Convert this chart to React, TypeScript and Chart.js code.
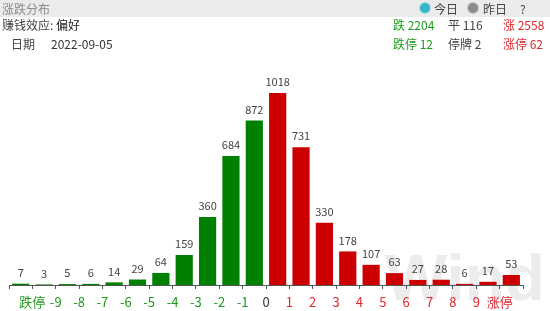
import React, { useEffect, useRef } from "react";
import { Chart, registerables } from "chart.js";

Chart.register(...registerables);

const rangeValues = [7, 3, 5, 6, 14, 29, 64, 159, 360, 684, 872, 1018, 731, 330, 178, 107, 63, 27, 28, 6, 17, 53];
const boundaryLabels = ["跌停", "-9", "-8", "-7", "-6", "-5", "-4", "-3", "-2", "-1", "0", "1", "2", "3", "4", "5", "6", "7", "8", "9", "涨停"];
const upCount = 2558;
const flatCount = 116;
const downCount = 2204;
const limitUp = 62;
const limitDown = 12;
const suspended = 2;
const dateText = "2022-09-05";
const sentiment = "偏好";

const GREEN = "#008000";
const RED = "#cc0000";
const GREEN_TEXT = "#1f9a1f";
const RED_TEXT = "#e0282e";
const FONT = '"Noto Sans CJK SC", "Noto Sans", sans-serif';

export default function App() {
  const ref = useRef<HTMLCanvasElement | null>(null);

  useEffect(() => {
    if (!ref.current) return;
    const n = rangeValues.length;
    const watermark = {
      id: "watermark",
      beforeDraw(chart: any) {
        const c = chart.ctx;
        c.save();
        c.font = 'bold 64px "Liberation Sans", Arial, sans-serif';
        c.fillStyle = "#ececec";
        c.textAlign = "left";
        c.textBaseline = "alphabetic";
        const w = c.measureText("Wind").width;
        c.translate(385, 300);
        c.scale(160 / w, 1);
        c.fillText("Wind", 0, 0);
        c.restore();
      },
    };
    const valueLabels = {
      id: "valueLabels",
      afterDatasetsDraw(chart: any) {
        const c = chart.ctx;
        const meta = chart.getDatasetMeta(0);
        c.save();
        c.font = "11px " + FONT;
        c.fillStyle = "#444";
        c.textAlign = "center";
        c.textBaseline = "middle";
        meta.data.forEach((bar: any, i: number) => {
          c.fillText(String(rangeValues[i]), bar.x, bar.y - 11);
        });
        c.restore();
      },
    };
    const chart = new Chart(ref.current, {
      type: "bar",
      data: {
        datasets: [
          {
            data: rangeValues.map((v, i) => ({ x: i + 0.5, y: v })),
            backgroundColor: rangeValues.map((_, i) => (i < 11 ? GREEN : RED)),
            borderWidth: 0,
            categoryPercentage: 0.8,
            barPercentage: 0.92,
          },
        ],
      },
      options: {
        animation: false,
        responsive: false,
        layout: { padding: { left: 9, right: 27, top: 60, bottom: 0 } },
        plugins: { legend: { display: false }, tooltip: { enabled: false } },
        scales: {
          x: {
            type: "linear",
            min: 0,
            max: n,
            offset: false,
            grid: { offset: false, drawOnChartArea: false, drawTicks: true, tickLength: 4, tickColor: "#555" },
            border: { display: true, color: "#555" },
            afterFit: (scale: any) => {
              scale.height = 26;
            },
            ticks: {
              stepSize: 1,
              autoSkip: false,
              maxTicksLimit: 100,
              maxRotation: 0,
              padding: 5,
              font: { size: 13, family: FONT },
              color: (ctx: any) => {
                const idx = ctx.tick ? ctx.tick.value - 1 : -1;
                if (idx < 10) return GREEN_TEXT;
                if (idx === 10) return "#333";
                return RED_TEXT;
              },
              callback: (v: any) => {
                const idx = Number(v) - 1;
                return boundaryLabels[idx] ?? "";
              },
            },
          },
          y: {
            display: false,
            min: 0,
            max: 1193,
          },
        },
      },
      plugins: [watermark, valueLabels],
    } as any);
    return () => chart.destroy();
  }, []);

  const abs = (left: number, top: number, color: string, extra: any = {}) => ({
    position: "absolute" as const,
    left,
    top,
    color,
    lineHeight: "17px",
    whiteSpace: "nowrap" as const,
    ...extra,
  });

  return (
    <div
      style={{
        position: "fixed",
        left: 0,
        top: 0,
        width: 550,
        height: 311,
        background: "#fff",
        fontFamily: FONT,
        fontSize: 12,
        overflow: "hidden",
      }}
    >
      <canvas ref={ref} width={550} height={311} style={{ position: "absolute", left: 0, top: 0 }} />
      <div style={{ position: "absolute", left: 0, top: 0, width: 550, height: 17, background: "#ebebeb" }} />
      <div style={abs(2, 0, "#8a8a8a")}>涨跌分布</div>
      <div
        style={{
          position: "absolute",
          left: 420,
          top: 3,
          width: 10,
          height: 10,
          borderRadius: 6,
          background: "#3ab4c8",
          boxShadow: "0 0 0 1px #a9dde6",
        }}
      />
      <div style={abs(434, 0, "#444")}>今日</div>
      <div
        style={{
          position: "absolute",
          left: 468,
          top: 3,
          width: 10,
          height: 10,
          borderRadius: 6,
          background: "#8c8c8c",
          boxShadow: "0 0 0 1px #c8c8c8",
        }}
      />
      <div style={abs(483, 0, "#444")}>昨日</div>
      <div style={abs(520, 0, "#444")}>?</div>
      <div style={abs(2, 16, "#444")}>
        赚钱效应: <span style={{ color: "#222" }}>{sentiment}</span>
      </div>
      <div style={abs(11, 35, "#444")}>日期</div>
      <div style={abs(51, 35, "#333")}>{dateText}</div>
      <div style={abs(393, 16, GREEN_TEXT)}>跌 {downCount}</div>
      <div style={abs(448, 16, "#444")}>平 {flatCount}</div>
      <div style={abs(503, 16, RED_TEXT)}>涨 {upCount}</div>
      <div style={abs(393, 35, GREEN_TEXT)}>跌停 {limitDown}</div>
      <div style={abs(448, 35, "#444")}>停牌 {suspended}</div>
      <div style={abs(503, 35, RED_TEXT)}>涨停 {limitUp}</div>
    </div>
  );
}
